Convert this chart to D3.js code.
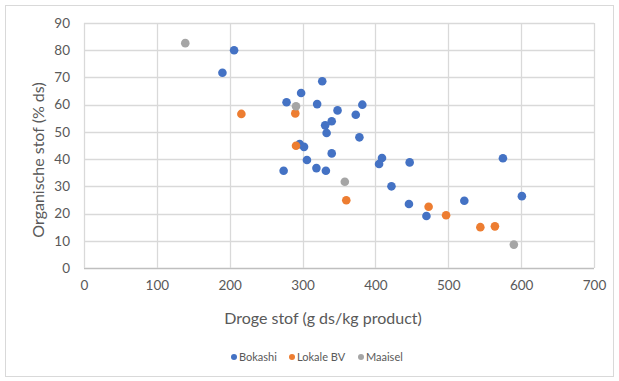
<!DOCTYPE html>
<html>
<head>
<meta charset="utf-8">
<script src="https://cdn.jsdelivr.net/npm/d3@7"></script>
<style>
    body { margin: 0; background: #fff; }
    text { font-family: Lato, "Open Sans", sans-serif; }
</style>
</head>
<body>
<div id="scatter"></div>
<script>
// Bokashi
var bokashiX = [206, 190, 327, 298, 278, 320, 382, 348, 373, 340, 331, 333, 378, 296, 302, 340, 306, 274, 319, 332, 409, 405, 447, 422, 446, 470, 522, 575, 601];
var bokashiY = [80, 71.7, 68.6, 64.3, 60.9, 60.2, 60, 57.9, 56.3, 53.9, 52.4, 49.6, 48, 45.5, 44.5, 42.1, 39.7, 35.7, 36.7, 35.7, 40.4, 38.2, 38.8, 30, 23.5, 19.1, 24.7, 40.3, 26.4];
// Lokale BV
var lokaleX = [216, 290, 291, 360, 473, 497, 544, 564];
var lokaleY = [56.6, 56.8, 44.9, 24.9, 22.5, 19.4, 15, 15.3];
// Maaisel
var maaiselX = [139, 291, 358, 590];
var maaiselY = [82.6, 59.4, 31.7, 8.6];

var seriesNames = ['Bokashi', 'Lokale BV', 'Maaisel'];
var seriesColors = ['#4472C4', '#ED7D31', '#A5A5A5'];
var xTicks = [0, 100, 200, 300, 400, 500, 600, 700];
var yTicks = [0, 10, 20, 30, 40, 50, 60, 70, 80, 90];

function drawScatter() {
    var width = 619, height = 381;
    var left = 84, top = 23, right = 594, bottom = 268;

    var svg = d3.select("#scatter")
        .append("svg")
        .attr("width", width)
        .attr("height", height);

    // chart border
    svg.append("rect")
        .attr("x", 5.5).attr("y", 5.5)
        .attr("width", 608).attr("height", 371)
        .attr("fill", "#fff")
        .attr("stroke", "#d9d9d9");

    var x = d3.scaleLinear().domain([0, 700]).range([left, right]);
    var y = d3.scaleLinear().domain([0, 90]).range([bottom, top]);

    // grid
    svg.append("g")
        .selectAll("line")
        .data(yTicks)
        .enter()
        .append("line")
        .attr("x1", left).attr("x2", right)
        .attr("y1", function (d) { return Math.round(y(d)) + 0.5; })
        .attr("y2", function (d) { return Math.round(y(d)) + 0.5; })
        .attr("stroke", function (d) { return d == 0 ? "#bfbfbf" : "#d9d9d9"; })
        .attr("stroke-width", 1.3);
    svg.append("g")
        .selectAll("line")
        .data(xTicks)
        .enter()
        .append("line")
        .attr("y1", top).attr("y2", bottom)
        .attr("x1", function (d) { return Math.round(x(d)) + 0.5; })
        .attr("x2", function (d) { return Math.round(x(d)) + 0.5; })
        .attr("stroke", "#d9d9d9")
        .attr("stroke-width", 1.3);

    // axes (labels only)
    var xAxis = svg.append("g")
        .attr("transform", "translate(0," + bottom + ")")
        .call(d3.axisBottom(x).tickValues(xTicks).tickSize(0).tickPadding(12));
    var yAxis = svg.append("g")
        .attr("transform", "translate(" + left + ",0)")
        .call(d3.axisLeft(y).tickValues(yTicks).tickSize(0).tickPadding(14));
    [xAxis, yAxis].forEach(function (a) {
        a.select(".domain").remove();
        a.selectAll("text")
            .attr("fill", "#595959")
            .style("font-size", "13.5px")
            .style("font-family", "Lato, sans-serif");
    });

    // titles
    svg.append("text")
        .attr("x", 323).attr("y", 324)
        .attr("text-anchor", "middle")
        .attr("fill", "#595959")
        .style("font-size", "16px")
        .text("Droge stof (g ds/kg product)");
    svg.append("text")
        .attr("transform", "translate(44,160) rotate(-90)")
        .attr("text-anchor", "middle")
        .attr("fill", "#595959")
        .style("font-size", "16px")
        .text("Organische stof (% ds)");

    // points
    var series = [
        { xs: bokashiX, ys: bokashiY },
        { xs: lokaleX, ys: lokaleY },
        { xs: maaiselX, ys: maaiselY }
    ];
    series.forEach(function (s, i) {
        svg.append("g")
            .selectAll("circle")
            .data(s.xs)
            .enter()
            .append("circle")
            .attr("cx", function (d) { return x(d); })
            .attr("cy", function (d, j) { return y(s.ys[j]); })
            .attr("r", 4.3)
            .attr("fill", seriesColors[i]);
    });

    // legend
    var legendX = [234, 292, 361];
    var legend = svg.append("g")
        .selectAll("g")
        .data(seriesNames)
        .enter()
        .append("g")
        .attr("transform", function (d, i) { return "translate(" + legendX[i] + ",357)"; });
    legend.append("circle")
        .attr("r", 3)
        .attr("fill", function (d, i) { return seriesColors[i]; });
    legend.append("text")
        .attr("x", 5)
        .attr("dy", "0.35em")
        .attr("fill", "#595959")
        .style("font-size", "11px")
        .text(function (d) { return d; });
}

window.addEventListener('load', function () {
    drawScatter();
})
</script>
</body>
</html>
